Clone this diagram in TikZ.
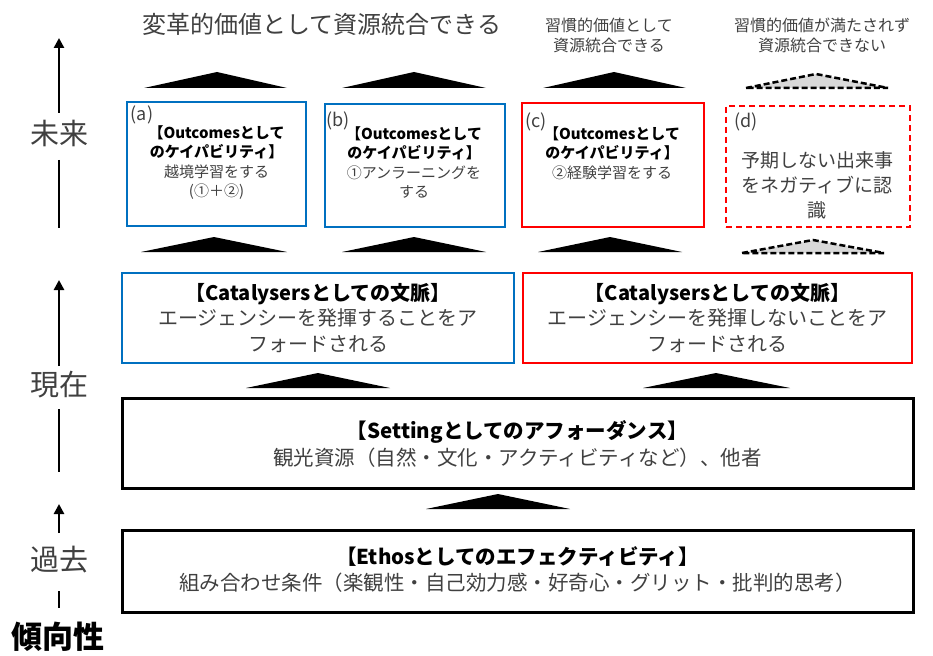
\documentclass[tikz,border=0pt]{standalone}
\usepackage{fontspec}
\setmainfont{Noto Sans CJK JP}
\usetikzlibrary{arrows.meta}
\definecolor{myblue}{RGB}{0,112,192}
\definecolor{myred}{RGB}{255,0,0}
\definecolor{txt}{RGB}{64,64,64}
\definecolor{trigray}{RGB}{217,217,217}
\begin{document}
\begin{tikzpicture}[x=1pt,y=-1pt,
  box/.style={rectangle, inner sep=0pt, outer sep=0pt},
  bluebox/.style={box, draw=myblue, line width=2.5pt},
  redbox/.style={box, draw=myred, line width=2.5pt},
  reddash/.style={box, draw=myred, line width=2.5pt, dash pattern=on 6pt off 4pt},
  blackbox/.style={box, draw=black, line width=3pt},
  solidtri/.style={fill=black},
  dashtri/.style={fill=trigray, draw=black, line width=2.5pt, dash pattern=on 6pt off 3pt},
  axisline/.style={line width=2.5pt},
  axisarrow/.style={axisline, -{Triangle[length=10pt,width=10pt]}},
  plain/.style={inner sep=0pt, text=txt, align=center},
  timelbl/.style={plain, font=\fontsize{29}{32}\selectfont},
  outtxt/.style={inner sep=0pt, align=center, font=\fontsize{15}{19.5}\selectfont},
  caplbl/.style={plain, font=\fontsize{18}{20}\selectfont}
]
\useasboundingbox (0,0) rectangle (933,655);

% top labels
\node[plain, font=\fontsize{24}{28}\selectfont] (tA) at (322,24) {変革的価値として資源統合できる};
\node[plain, font=\fontsize{16}{20}\selectfont] (tC) at (609,35) {習慣的価値として\\資源統合できる};
\node[plain, font=\fontsize{16}{20}\selectfont] (tD) at (822,35) {習慣的価値が満たされず\\資源統合できない};

% top row triangles
\fill[solidtri] (144,88) -- (217,72) -- (287,88) -- cycle;
\fill[solidtri] (342,88) -- (414,72) -- (486,88) -- cycle;
\fill[solidtri] (543,88) -- (614,72) -- (686,88) -- cycle;
\filldraw[dashtri] (746,88) -- (816,74) -- (888,88) -- cycle;

% outcome boxes
\node[bluebox, minimum width=179pt, minimum height=124pt] (boxa) at (216.5,164) {};
\node[bluebox, minimum width=180pt, minimum height=123pt] (boxb) at (415,165.5) {};
\node[redbox, minimum width=182pt, minimum height=124pt] (boxc) at (613,165) {};
\node[reddash, minimum width=184pt, minimum height=121pt] (boxd) at (818,166.5) {};

\node[caplbl] (la) at (142,115) {(a)};
\node[caplbl] (lb) at (338,121) {(b)};
\node[caplbl] (lc) at (536,122) {(c)};
\node[caplbl] (ld) at (746,122) {(d)};

\node[outtxt] (ta) at (216.5,162.5) {\textbf{【Outcomesとして}\\\textbf{のケイパビリティ】}\\{\color{txt}越境学習をする}\\{\color{txt}(①＋②)}};
\node[outtxt] (tb) at (414,162.5) {\textbf{【Outcomesとして}\\\textbf{のケイパビリティ】}\\{\color{txt}①アンラーニングを}\\{\color{txt}する}};
\node[outtxt] (tc) at (612,153) {\textbf{【Outcomesとして}\\\textbf{のケイパビリティ】}\\{\color{txt}②経験学習をする}};
\node[plain, font=\fontsize{19}{25}\selectfont] (td) at (817,185) {予期しない出来事\\をネガティブに認\\識};

% second row triangles
\fill[solidtri] (141,252) -- (214,237) -- (287,252) -- cycle;
\fill[solidtri] (342,252) -- (414,237) -- (486,252) -- cycle;
\fill[solidtri] (538,252) -- (610,237) -- (682,252) -- cycle;
\filldraw[dashtri] (742,253) -- (813,240) -- (884,253) -- cycle;

% catalysers
\node[bluebox, minimum width=392pt, minimum height=90pt] (catL) at (318,318) {};
\node[redbox, minimum width=389pt, minimum height=90pt] (catR) at (717.5,318) {};
\node[inner sep=0pt, align=center, font=\fontsize{20}{25.5}\selectfont] (tcl) at (318,318) {\textbf{【Catalysersとしての文脈】}\\{\color{txt}エージェンシーを発揮することをア}\\{\color{txt}フォードされる}};
\node[inner sep=0pt, align=center, font=\fontsize{20}{25.5}\selectfont] (tcr) at (717.5,318) {\textbf{【Catalysersとしての文脈】}\\{\color{txt}エージェンシーを発揮しないことをア}\\{\color{txt}フォードされる}};

% third row triangles
\fill[solidtri] (246,388) -- (318,373) -- (390,388) -- cycle;
\fill[solidtri] (643,388) -- (716,373) -- (790,388) -- cycle;

% setting
\node[blackbox, minimum width=791pt, minimum height=90pt] (set) at (517.5,443) {};
\node[inner sep=0pt, align=center, font=\fontsize{20.5}{27}\selectfont] (tset) at (517.5,443.5) {\textbf{【Settingとしてのアフォーダンス】}\\{\color{txt}観光資源（自然・文化・アクティビティなど）、他者}};

% fourth triangle
\fill[solidtri] (426,509) -- (498,494) -- (570,509) -- cycle;

% ethos
\node[blackbox, minimum width=791pt, minimum height=82pt] (eth) at (517.5,571) {};
\node[inner sep=0pt, align=center, font=\fontsize{20.5}{26}\selectfont] (teth) at (517.5,570) {\textbf{【Ethosとしてのエフェクティビティ】}\\{\color{txt}組み合わせ条件（楽観性・自己効力感・好奇心・グリット・批判的思考）}};

% left time axis
\coordinate (a1s) at (59,113);
\coordinate (a1e) at (59,38);
\draw[axisarrow] (a1s) -- (a1e);
\node[timelbl] (mirai) at (59,133) {未来};
\coordinate (l1s) at (59,160);
\coordinate (l1e) at (59,228);
\draw[axisline] (l1s) -- (l1e);

\coordinate (a2s) at (59,366);
\coordinate (a2e) at (59,280);
\draw[axisarrow] (a2s) -- (a2e);
\node[timelbl] (genzai) at (59,385) {現在};
\coordinate (l2s) at (59,409);
\coordinate (l2e) at (59,472);
\draw[axisline] (l2s) -- (l2e);

\coordinate (a3s) at (59,533);
\coordinate (a3e) at (59,504);
\draw[axisarrow] (a3s) -- (a3e);
\node[timelbl] (kako) at (59,560) {過去};
\coordinate (l3s) at (59,591);
\coordinate (l3e) at (59,608);
\draw[axisline] (l3s) -- (l3e);

\node[inner sep=0pt, font=\fontsize{31}{34}\selectfont\bfseries] (keiko) at (58,637) {傾向性};
\end{tikzpicture}
\end{document}
